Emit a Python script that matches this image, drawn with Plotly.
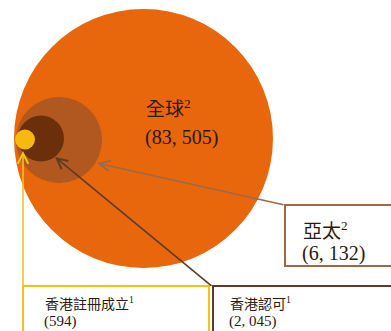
import plotly.graph_objects as go

# Data
labels = ["全球", "亞太", "香港認可", "香港註冊成立"]
notes = ["2", "2", "1", "1"]
values = [83505, 6132, 2045, 594]

# Layout geometry (pixel units)
W, H = 391, 331
centers = [(143.5, 138.5), (59, 140), (41, 138.5), (25, 139.5)]
radii = [129.5, 43, 23, 10]
fills = ["#E8660C", "#B0581F", "#6C2F0B", "#F6B911"]

fig = go.Figure()
fig.add_trace(go.Scatter(x=[0, W], y=[0, H], mode="markers",
                         marker=dict(opacity=0), hoverinfo="skip", showlegend=False))

shapes = []
for (cx, cy), r, c in zip(centers, radii, fills):
    shapes.append(dict(type="circle", xref="x", yref="y",
                       x0=cx - r, x1=cx + r, y0=cy - r, y1=cy + r,
                       fillcolor=c, line=dict(width=0), layer="above"))

# label boxes
boxes = [
    dict(x0=285, y0=205, x1=400, y1=266, color="#A0683F"),   # 亞太
    dict(x0=213, y0=286, x1=400, y1=345, color="#5E3B25"),   # 香港認可
    dict(x0=23, y0=286, x1=209, y1=345, color="#F0C21C"),    # 香港註冊成立
]
for b in boxes:
    shapes.append(dict(type="rect", xref="x", yref="y", x0=b["x0"], x1=b["x1"],
                       y0=b["y0"], y1=b["y1"], fillcolor="white",
                       line=dict(color=b["color"], width=2), layer="above"))

font_fam = "Liberation Serif, Noto Sans CJK TC, serif"
ann = []
# arrows
arrows = [
    dict(x=97, y=163, ax=285, ay=205, color="#9A6A4A"),
    dict(x=55, y=157, ax=213, ay=287, color="#5E3B25"),
    dict(x=23, y=151, ax=23, ay=331, color="#F0C21C"),
]
for a in arrows:
    ann.append(dict(x=a["x"], y=a["y"], ax=a["ax"], ay=a["ay"], xref="x", yref="y",
                    axref="x", ayref="y", showarrow=True, arrowhead=5,
                    arrowsize=1.3, arrowwidth=1.6, arrowcolor=a["color"], text=""))

def fmt(v):
    return "({:,})".format(v).replace(",", ", ")

text_pos = [(144, 108, 137, 19, 20), (301, 230, 253, 19, 20),
            (228, 303, 321, 14, 15), (43, 303, 321, 14, 15)]
for lab, n, v, (tx, ty1, ty2, fs1, fs2) in zip(labels, notes, values, text_pos):
    ann.append(dict(x=tx, y=ty1, xref="x", yref="y", xanchor="left", yanchor="middle",
                    text=f"{lab}<sup>{n}</sup>", showarrow=False,
                    font=dict(family=font_fam, size=fs1, color="#2a1a10")))
    ann.append(dict(x=tx - 1, y=ty2, xref="x", yref="y", xanchor="left", yanchor="middle",
                    text=fmt(v), showarrow=False,
                    font=dict(family=font_fam, size=fs2, color="#2a1a10")))

fig.update_layout(
    width=W, height=H, margin=dict(l=0, r=0, t=0, b=0),
    paper_bgcolor="white", plot_bgcolor="white",
    xaxis=dict(range=[0, W], visible=False, fixedrange=True),
    yaxis=dict(range=[H, 0], visible=False, fixedrange=True),
    shapes=shapes, annotations=ann, showlegend=False,
)
fig.write_html("out.html")
